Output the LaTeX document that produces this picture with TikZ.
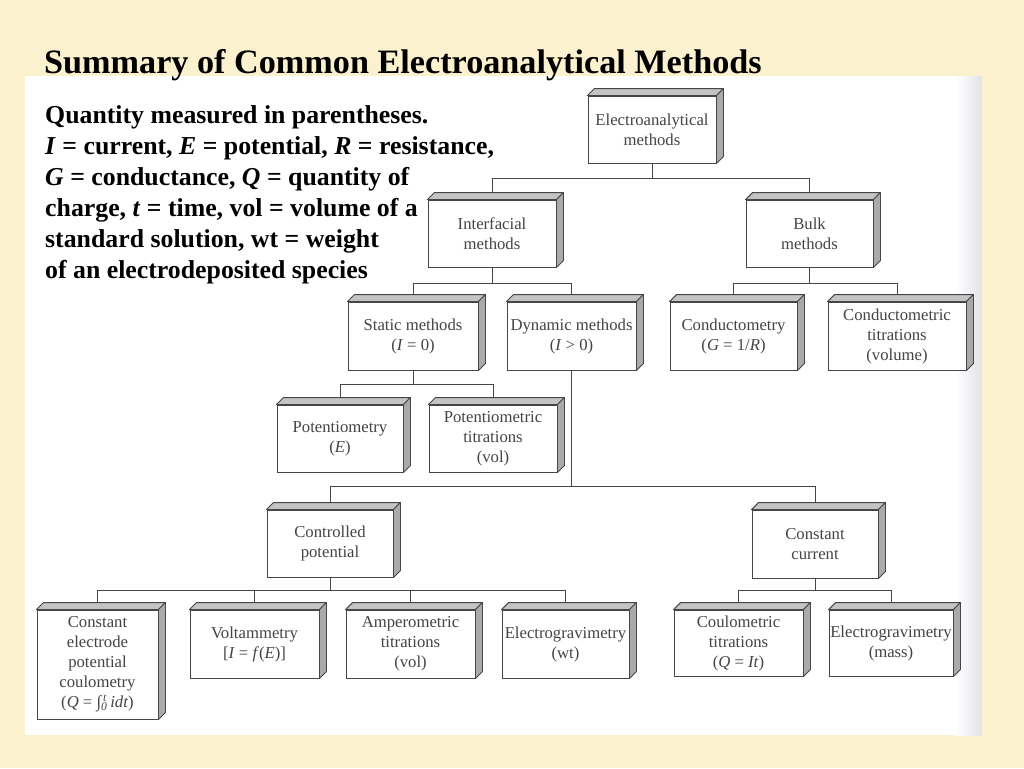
\documentclass[tikz,border=0pt]{standalone}
\usepackage{fontspec}
\setmainfont{Liberation Serif}
\usepackage{tikz}
\usetikzlibrary{calc}
\definecolor{slidebg}{RGB}{252, 241, 206}
\definecolor{panelshade}{RGB}{226, 227, 232}
\definecolor{boxline}{RGB}{70, 70, 70}
\definecolor{boxtext}{RGB}{68, 68, 68}
\definecolor{topgray}{RGB}{196, 196, 196}
\definecolor{sidegray}{RGB}{170, 170, 170}
\tikzset{
  methodblock/.style={
    rectangle, draw=boxline, fill=white, line width=0.9pt,
    inner sep=0pt, align=center, text=boxtext,
    font=\fontsize{16.7}{20}\selectfont
  },
  topface/.style={draw=boxline, fill=topgray, line width=0.9pt, line join=round},
  sideface/.style={draw=boxline, fill=sidegray, line width=0.9pt, line join=round},
  treeline/.style={draw=boxline, line width=0.9pt},
  titletext/.style={font=\fontsize{34.2}{40}\selectfont\bfseries, inner sep=0pt},
  notetext/.style={font=\fontsize{25.8}{31}\selectfont\bfseries, align=left, inner sep=0pt}
}

\begin{document}
\begin{tikzpicture}[x=1pt, y=-1pt]

  \useasboundingbox (0,0) rectangle (1024,768);

  % Slide background and white panel
  \fill[slidebg] (0,0) rectangle (1024,768);
  \fill[white] (25,76) rectangle (982,735);
  \shade[left color=white, right color=panelshade] (955,76) rectangle (982,735);

  % Title and key
  \node[titletext, anchor=base west] (title) at (44,74) {Summary of Common Electroanalytical Methods};
  \node[notetext, anchor=north west] (key) at (45,105.5) {
    Quantity measured in parentheses.\\
    \textit{I} = current, \textit{E} = potential, \textit{R} = resistance,\\
    \textit{G} = conductance, \textit{Q} = quantity of\\
    charge, \textit{t} = time, vol = volume of a\\
    standard solution, wt = weight\\
    of an electrodeposited species
  };

  % Root
  \node[methodblock, minimum width=128, minimum height=67] (root) at (652,129.5)
    {Electroanalytical\\methods};

  % Interfacial / bulk
  \node[methodblock, minimum width=128, minimum height=67] (interfacial) at (492,233.5)
    {Interfacial\\methods};
  \node[methodblock, minimum width=127, minimum height=67] (bulk) at (809.5,233.5)
    {Bulk\\methods};

  % Static / dynamic and bulk methods
  \node[methodblock, minimum width=130, minimum height=68] (static) at (413,336)
    {Static methods\\(\textit{I} = 0)};
  \node[methodblock, minimum width=129, minimum height=68] (dynamic) at (571.5,336)
    {Dynamic methods\\(\textit{I} \textgreater{} 0)};
  \node[methodblock, minimum width=127, minimum height=68] (conductometry) at (733.5,336)
    {Conductometry\\(\textit{G} = 1/\textit{R})};
  \node[methodblock, minimum width=138, minimum height=68] (condtitr) at (897,336)
    {Conductometric\\titrations\\(volume)};

  % Static branch
  \node[methodblock, minimum width=126, minimum height=67] (potentiometry) at (340,438.5)
    {Potentiometry\\(\textit{E})};
  \node[methodblock, minimum width=128, minimum height=67] (pottitr) at (493,438.5)
    {Potentiometric\\titrations\\(vol)};

  % Dynamic branch
  \node[methodblock, minimum width=126, minimum height=67] (controlled) at (330,543.5)
    {Controlled\\potential};
  \node[methodblock, minimum width=126, minimum height=68] (constcurrent) at (815,544)
    {Constant\\current};

  % Controlled potential methods
  \node[methodblock, minimum width=121, minimum height=109] (cepc) at (97.5,664.5)
    {Constant\\electrode\\potential\\coulometry\\(\textit{Q} = ∫\rlap{\textsuperscript{\,\textit{t}}}\textsubscript{\textit{0}}\,\textit{idt})};
  \node[methodblock, minimum width=129, minimum height=68] (voltammetry) at (254.5,644)
    {Voltammetry\\{[}\textit{I} = \textit{f}(\textit{E}){]}};
  \node[methodblock, minimum width=129, minimum height=68] (amptitr) at (410.5,644)
    {Amperometric\\titrations\\(vol)};
  \node[methodblock, minimum width=127, minimum height=68] (gravwt) at (565.5,644)
    {Electrogravimetry\\(wt)};

  % Constant current methods
  \node[methodblock, minimum width=129, minimum height=66] (coultitr) at (738.5,643)
    {Coulometric\\titrations\\(\textit{Q} = \textit{It})};
  \node[methodblock, minimum width=124, minimum height=66] (gravmass) at (891,643)
    {Electrogravimetry\\(mass)};

  % Tree lines
  \draw[treeline] (root.south) -- ++(0,15) -| (interfacial.north);
  \draw[treeline] (root.south) -- ++(0,15) -| (bulk.north);
  \draw[treeline] (interfacial.south) -- ++(0,16) -| (static.north);
  \draw[treeline] (interfacial.south) -- ++(0,16) -| (dynamic.north);
  \draw[treeline] (bulk.south) -- ++(0,16) -| (conductometry.north);
  \draw[treeline] (bulk.south) -- ++(0,16) -| (condtitr.north);
  \draw[treeline] (static.south) -- ++(0,14) -| (potentiometry.north);
  \draw[treeline] (static.south) -- ++(0,14) -| (pottitr.north);
  \draw[treeline] (dynamic.south) -- ++(0,116) -| (controlled.north);
  \draw[treeline] (dynamic.south) -- ++(0,116) -| (constcurrent.north);
  \foreach \leaf in {cepc, voltammetry, amptitr, gravwt}
    \draw[treeline] (controlled.south) -- ++(0,13) -| (\leaf.north);
  \foreach \leaf in {coultitr, gravmass}
    \draw[treeline] (constcurrent.south) -- ++(0,12) -| (\leaf.north);

  % 3D faces
  \foreach \n in {root, interfacial, bulk, static, dynamic, conductometry, condtitr,
                  potentiometry, pottitr, controlled, constcurrent,
                  cepc, voltammetry, amptitr, gravwt, coultitr, gravmass} {
    \draw[topface] (\n.north west) -- ($(\n.north west)+(7,-7)$)
      -- ($(\n.north east)+(7,-7)$) -- (\n.north east) -- cycle;
    \draw[sideface] (\n.north east) -- ($(\n.north east)+(7,-7)$)
      -- ($(\n.south east)+(7,-7)$) -- (\n.south east) -- cycle;
  }

\end{tikzpicture}
\end{document}
